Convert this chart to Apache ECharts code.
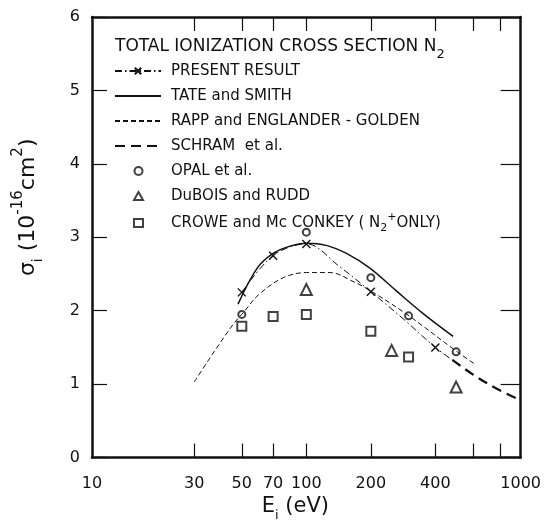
<!DOCTYPE html>
<html>
<head>
<meta charset="utf-8">
<script src="https://cdn.jsdelivr.net/npm/echarts@6/dist/echarts.min.js"></script>
<style>
  html, body { margin: 0; padding: 0; background: #fff; }
  #chart { width: 544px; height: 527px; }
</style>
</head>
<body>
<div id="chart"></div>
<script>
// axis ticks / labels (energy, eV)
const tickE = [30, 50, 70, 100, 200, 400, 600, 800]
const labelE = [10, 30, 50, 70, 100, 200, 400, 1000]

// present result (dash-dot curve, crosses at measured energies)
const presentE = [50, 70, 100, 143, 200, 283, 400, 480]
const presentSig = [2.25, 2.75, 2.91, 2.60, 2.26, 1.89, 1.50, 1.33]
const crossE = [50, 70, 100, 200, 400]

// Tate and Smith (solid)
const tateE = [48, 59, 70, 84, 100, 124, 154, 198, 263, 351, 484]
const tateSig = [2.09, 2.58, 2.78, 2.88, 2.92, 2.89, 2.78, 2.58, 2.27, 1.96, 1.65]

// Rapp and Englander-Golden (thin dashed)
const rappE = [30, 35, 40, 46, 51, 60, 78, 100, 129, 165, 205, 298, 501, 621]
const rappSig = [1.03, 1.33, 1.58, 1.83, 1.98, 2.22, 2.45, 2.52, 2.52, 2.40, 2.25, 1.94, 1.45, 1.26]

// Schram et al. (heavy dashed)
const schramE = [480, 600, 760, 1000]
const schramSig = [1.33, 1.13, 0.95, 0.78]

// Opal et al. (circles)
const opalE = [50, 100, 200, 300, 500]
const opalSig = [1.95, 3.07, 2.45, 1.93, 1.44]

// DuBois and Rudd (triangles)
const duboisE = [100, 250, 500]
const duboisSig = [2.29, 1.46, 0.96]

// Crowe and McConkey, N2+ only (squares)
const croweE = [50, 70, 100, 200, 300]
const croweSig = [1.79, 1.92, 1.95, 1.72, 1.37]

const FONT = 'DejaVu Sans'
const INK = '#111'
const pairs = (xs, ys) => xs.map((x, i) => [x, ys[i]])
const crossPath = 'path://M0 0L10 10M10 0L0 10'

const presentData = presentE.map((x, i) => {
  const item = { value: [x, presentSig[i]] }
  if (crossE.indexOf(x) < 0) item.symbol = 'none'
  return item
})

const legendText = {
  fontFamily: FONT, fontSize: 15, color: INK, lineHeight: 18,
  rich: {
    s: { fontFamily: FONT, fontSize: 11, color: INK, verticalAlign: 'bottom', lineHeight: 22 },
    p: { fontFamily: FONT, fontSize: 11, color: INK, verticalAlign: 'top', lineHeight: 22 }
  }
}

const chart = echarts.init(document.getElementById('chart'))

chart.setOption({
  backgroundColor: '#fff',
  animation: false,
  textStyle: { fontFamily: FONT, color: INK },
  title: {
    text: 'TOTAL IONIZATION CROSS SECTION N{s|2}',
    left: 110,
    top: 28,
    textStyle: {
      fontFamily: FONT, fontSize: 17, fontWeight: 'normal', color: INK, lineHeight: 20,
      rich: { s: { fontFamily: FONT, fontSize: 13, color: INK, verticalAlign: 'bottom', lineHeight: 28 } }
    }
  },
  legend: [
    {
      orient: 'vertical',
      left: 109,
      top: 57,
      itemWidth: 46,
      itemHeight: 8,
      itemGap: 7,
      selectedMode: false,
      textStyle: Object.assign({ padding: [0, 0, 0, 5] }, legendText),
      data: [
        { name: 'PRESENT RESULT' },
        { name: 'TATE and SMITH', itemStyle: { opacity: 0 } },
        { name: 'RAPP and ENGLANDER - GOLDEN', itemStyle: { opacity: 0 } },
        { name: 'SCHRAM  et al.', itemStyle: { opacity: 0 } }
      ]
    },
    {
      orient: 'vertical',
      left: 128,
      top: 157,
      itemWidth: 9,
      itemHeight: 8,
      itemGap: 7,
      selectedMode: false,
      textStyle: Object.assign({ padding: [0, 0, 0, 23] }, legendText),
      formatter: function (name) {
        if (name.indexOf('CROWE') === 0) return 'CROWE and Mc CONKEY ( N{s|2}{p|+}ONLY)'
        return name
      },
      data: [
        { name: 'OPAL et al.' },
        { name: 'DuBOIS and RUDD' },
        { name: 'CROWE and Mc CONKEY' }
      ]
    }
  ],
  grid: { left: 92, right: 23, top: 17, bottom: 60 },
  xAxis: [
    { // data axis (log), hidden
      type: 'log', logBase: 10, min: 10, max: 1000, position: 'bottom', show: false
    },
    { // bottom frame, ticks and labels
      type: 'value', min: 1, max: 3, position: 'bottom',
      axisLine: { show: true, lineStyle: { color: INK, width: 2.5 } },
      axisTick: { show: true, inside: true, length: 14, customValues: tickE.map(Math.log10), lineStyle: { color: INK, width: 1.2 } },
      axisLabel: {
        customValues: labelE.map(Math.log10),
        formatter: v => String(Math.round(Math.pow(10, v))),
        margin: 18, fontSize: 16, fontFamily: FONT, color: INK
      },
      splitLine: { show: false },
      name: '{a|E}{b|i}{a| (eV)}',
      nameLocation: 'middle',
      nameGap: 34,
      nameTextStyle: {
        padding: [0, 22, 0, 0],
        rich: {
          a: { fontFamily: FONT, fontSize: 21, color: INK, lineHeight: 26 },
          b: { fontFamily: FONT, fontSize: 13, color: INK, verticalAlign: 'bottom', lineHeight: 30 }
        }
      }
    },
    { // top frame with ticks
      type: 'value', min: 1, max: 3, position: 'top',
      axisLine: { show: true, lineStyle: { color: INK, width: 2.5 } },
      axisTick: { show: true, inside: true, length: 14, customValues: tickE.map(Math.log10), lineStyle: { color: INK, width: 1.2 } },
      axisLabel: { show: false },
      splitLine: { show: false }
    }
  ],
  yAxis: [
    {
      type: 'value', min: 0, max: 6, interval: 1, position: 'left',
      axisLine: { show: true, lineStyle: { color: INK, width: 2.5 } },
      axisTick: { show: true, inside: true, length: 15, lineStyle: { color: INK, width: 1.2 } },
      axisLabel: { margin: 12, fontSize: 16, fontFamily: FONT, color: INK },
      splitLine: { show: false },
      name: '{a|σ}{b|i}{a| (10}{c|-16}{a|cm}{c|2}{a|)}',
      nameLocation: 'middle',
      nameRotate: 90,
      nameGap: 47,
      nameTextStyle: {
        padding: [0, 0, 0, 60],
        rich: {
          a: { fontFamily: FONT, fontSize: 22, color: INK, lineHeight: 34 },
          b: { fontFamily: FONT, fontSize: 14, color: INK, verticalAlign: 'bottom', lineHeight: 34 },
          c: { fontFamily: FONT, fontSize: 15, color: INK, verticalAlign: 'top', lineHeight: 34 }
        }
      }
    },
    {
      type: 'value', min: 0, max: 6, interval: 1, position: 'right',
      axisLine: { show: true, lineStyle: { color: INK, width: 2.5 } },
      axisTick: { show: true, inside: true, length: 20, lineStyle: { color: INK, width: 1.2 } },
      axisLabel: { show: false },
      splitLine: { show: false }
    }
  ],
  series: [
    {
      name: 'PRESENT RESULT',
      type: 'line',
      xAxisIndex: 0, yAxisIndex: 0,
      smooth: 0.35,
      data: presentData,
      symbol: crossPath,
      symbolSize: 8,
      itemStyle: { color: INK, borderColor: INK, borderWidth: 1.4 },
      lineStyle: { color: INK, width: 1, type: [7, 3, 1.5, 3] },
      z: 5
    },
    {
      name: 'TATE and SMITH',
      type: 'line',
      xAxisIndex: 0, yAxisIndex: 0,
      smooth: 0.35,
      symbol: 'none',
      data: pairs(tateE, tateSig),
      itemStyle: { color: INK },
      lineStyle: { color: INK, width: 1.5, type: 'solid' }
    },
    {
      name: 'RAPP and ENGLANDER - GOLDEN',
      type: 'line',
      xAxisIndex: 0, yAxisIndex: 0,
      smooth: 0.35,
      symbol: 'none',
      data: pairs(rappE, rappSig),
      itemStyle: { color: INK },
      lineStyle: { color: INK, width: 1, type: [5, 3] }
    },
    {
      name: 'SCHRAM  et al.',
      type: 'line',
      xAxisIndex: 0, yAxisIndex: 0,
      smooth: 0.35,
      symbol: 'none',
      data: pairs(schramE, schramSig),
      itemStyle: { color: INK },
      lineStyle: { color: INK, width: 2.3, type: [10, 6] }
    },
    {
      name: 'OPAL et al.',
      type: 'scatter',
      xAxisIndex: 0, yAxisIndex: 0,
      symbol: 'emptyCircle',
      symbolSize: 7,
      data: pairs(opalE, opalSig),
      itemStyle: { color: INK, borderColor: INK, borderWidth: 1 }
    },
    {
      name: 'DuBOIS and RUDD',
      type: 'scatter',
      xAxisIndex: 0, yAxisIndex: 0,
      symbol: 'emptyTriangle',
      symbolSize: 11,
      data: pairs(duboisE, duboisSig),
      itemStyle: { color: INK, borderColor: INK, borderWidth: 1 }
    },
    {
      name: 'CROWE and Mc CONKEY',
      type: 'scatter',
      xAxisIndex: 0, yAxisIndex: 0,
      symbol: 'emptyRect',
      symbolSize: 9,
      data: pairs(croweE, croweSig),
      itemStyle: { color: INK, borderColor: INK, borderWidth: 1 }
    }
  ]
})
</script>
</body>
</html>
